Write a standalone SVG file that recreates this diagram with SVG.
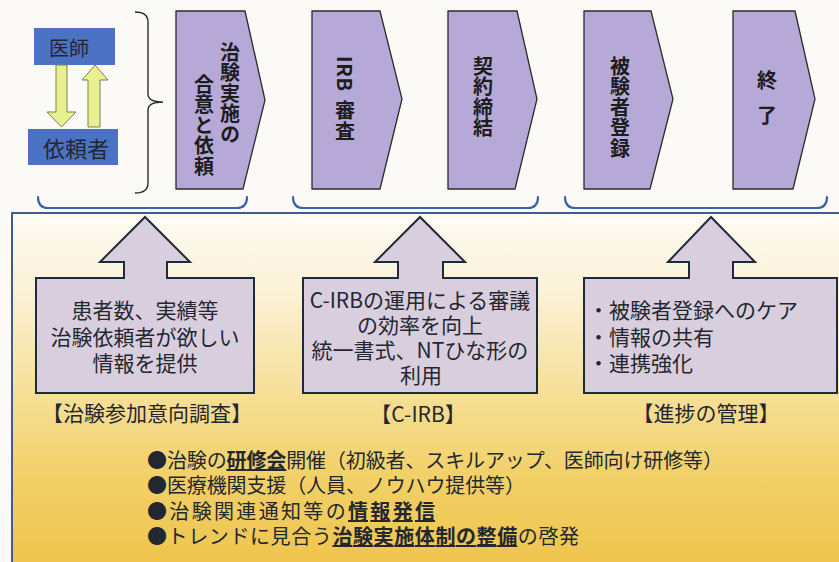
<svg xmlns="http://www.w3.org/2000/svg" width="839" height="562" viewBox="0 0 839 562">
<style>
text{font-family:"Noto Sans CJK JP","Noto Sans CJK SC",sans-serif;fill:#23272f}
.vt{writing-mode:vertical-rl;font-size:20px;font-weight:bold;letter-spacing:0.6px;fill:#1d1d1d}
.chev{fill:#b6a9d8;stroke:#2b2b2b;stroke-width:1.3}
.blue{fill:#4c72c3}
.ya{fill:#e9f08f;stroke:#7d7f5a;stroke-width:1}
.brk{fill:none;stroke:#3d62a8;stroke-width:2.2;stroke-linecap:round}
.blk{fill:#d9cede;stroke:#1f2a3a;stroke-width:2;stroke-linejoin:miter}
.bt{font-size:21px;text-anchor:middle}
.bl{font-size:21px}
.lab{font-size:21px;text-anchor:middle}
.lst{font-size:20px}
.u{font-weight:bold;text-decoration:underline}
</style>
<defs>
<linearGradient id="bg" x1="0" y1="0" x2="0" y2="1">
<stop offset="0" stop-color="#fdfbf4"/>
<stop offset="0.22" stop-color="#fbf1d6"/>
<stop offset="0.5" stop-color="#f6df98"/>
<stop offset="0.72" stop-color="#f2d16a"/>
<stop offset="1" stop-color="#eec34a"/>
</linearGradient>
</defs>
<rect x="0" y="0" width="839" height="562" fill="#fbfaf7"/>

<!-- big support panel -->
<rect id="panel" x="12" y="213" width="840" height="360" fill="url(#bg)" stroke="#3f5d8f" stroke-width="2"/>

<!-- doctor / sponsor -->
<g id="doctor">
<rect class="blue" x="34" y="28" width="81" height="37"/>
<text x="69" y="56" font-size="20" text-anchor="middle">医師</text>
</g>
<g id="sponsor">
<rect class="blue" x="28" y="129" width="90" height="36"/>
<text x="76" y="157" font-size="22" text-anchor="middle">依頼者</text>
</g>

<g id="connectors">
<path class="ya" d="M56,65 H67 V112 H76 L61.5,127 L47,112 H56 Z"/>
<path class="ya" d="M88,127 V80 H82 L95,65 L108,80 H100 V127 Z"/>
<path d="M135,12 Q148,12 148,22 V94 Q148,102 163,102 Q148,102 148,110 V183 Q148,193 135,193" fill="none" stroke="#2b2b2b" stroke-width="1.4"/>
<path class="brk" d="M38,197 Q38,208 48,208 H237 Q247,208 247,197"/>
<path class="brk" d="M293,197 Q293,208 303,208 H528 Q538,208 538,197"/>
<path class="brk" d="M565,197 Q565,208 575,208 H817 Q827,208 827,197"/>
</g>

<!-- process chevrons -->
<g id="step1">
<polygon class="chev" points="176,11 245,11 265,100 243,189 176,189"/>
<text class="vt" x="230" y="42">治験実施の</text>
<text class="vt" x="204" y="74">合意と依頼</text>
</g>
<g id="step2">
<polygon class="chev" points="312,11 380,11 402,99 380,189 312,189"/>
<text class="vt" x="345" y="56">IRB&#x2009;&#x2009;審査</text>
</g>
<g id="step3">
<polygon class="chev" points="448,11 517,11 537,99 515,189 448,189"/>
<text class="vt" x="483" y="56">契約締結</text>
</g>
<g id="step4">
<polygon class="chev" points="584,11 651,11 673,99 650,189 584,189"/>
<text class="vt" x="620" y="56">被験者登録</text>
</g>
<g id="step5">
<polygon class="chev" points="733,11 795,11 815,99 793,189 733,189"/>
<text class="vt" x="767" y="70">終&#x2002;&#x2009;了</text>
</g>

<!-- support block arrows -->
<g id="survey">
<path class="blk" d="M36,278 H124 V262 H100 L145,217 L190,262 H167 V278 H254 V393 H36 Z"/>
<text class="bt" x="145" y="318">患者数、実績等</text>
<text class="bt" x="145" y="345">治験依頼者が欲しい</text>
<text class="bt" x="145" y="371">情報を提供</text>
<text class="lab" x="147" y="421">【治験参加意向調査】</text>
</g>
<g id="cirb">
<path class="blk" d="M303,278 H398 V262 H375 L420,217 L465,262 H443 V278 H537 V393 H303 Z"/>
<text class="bt" x="420" y="308">C-IRBの運用による審議</text>
<text class="bt" x="420" y="333">の効率を向上</text>
<text class="bt" x="420" y="358">統一書式、NTひな形の</text>
<text class="bt" x="421" y="383">利用</text>
<text class="lab" x="418" y="422">【C-IRB】</text>
</g>
<g id="progress">
<path class="blk" d="M584,278 H689 V262 H668 L711,217 L755,262 H733 V278 H837 V393 H584 Z"/>
<text class="bl" x="588" y="318">・被験者登録へのケア</text>
<text class="bl" x="588" y="345">・情報の共有</text>
<text class="bl" x="588" y="371">・連携強化</text>
<text class="lab" x="706" y="421">【進捗の管理】</text>
</g>

<!-- activities list -->
<g id="activities">
<text class="lst" x="147" y="468" textLength="576" lengthAdjust="spacing">●治験の<tspan class="u">研修会</tspan>開催（初級者、スキルアップ、医師向け研修等）</text>
<text class="lst" x="147" y="493" textLength="378" lengthAdjust="spacing">●医療機関支援（人員、ノウハウ提供等）</text>
<text class="lst" x="147" y="519" textLength="288" lengthAdjust="spacing">●治験関連通知等の<tspan class="u">情報発信</tspan></text>
<text class="lst" x="147" y="544" textLength="432" lengthAdjust="spacing">●トレンドに見合う<tspan class="u">治験実施体制の整備</tspan>の啓発</text>
</g>
</svg>
